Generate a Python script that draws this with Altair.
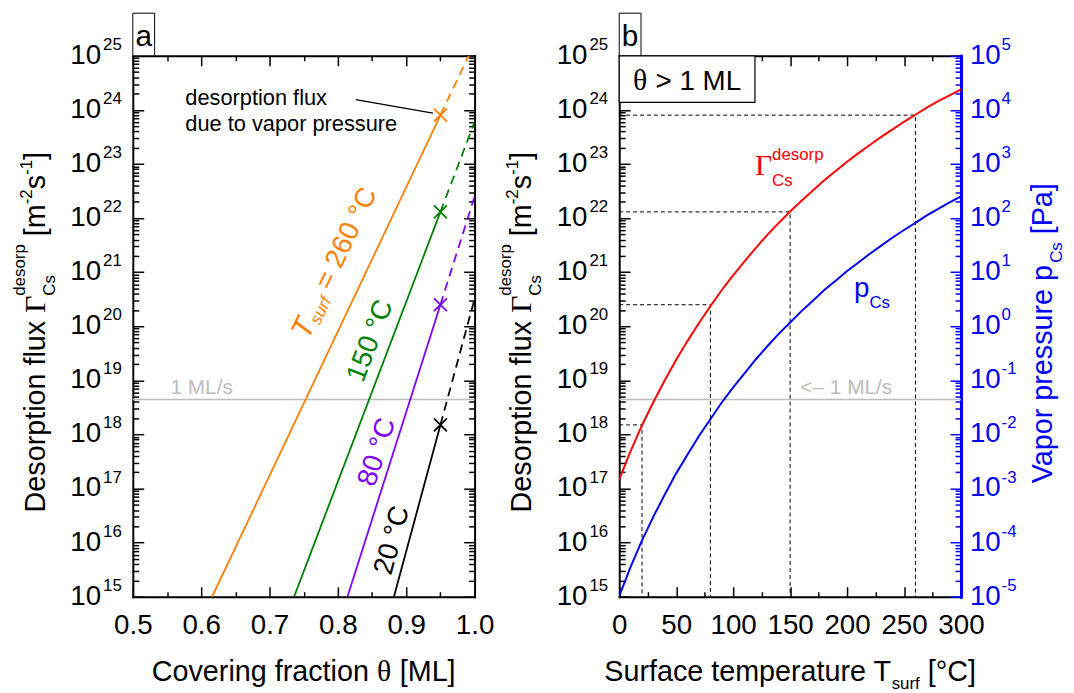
import math
import altair as alt
import pandas as pd

FONT = "Liberation Sans"
SERIF = "Liberation Serif"
W, H = 345, 546

# ---------------- data: panel a ----------------
series_names = ["260", "150", "80", "20"]
series_colors = ["#ff7f00", "#008000", "#7f00ff", "#000000"]
theta_start = [0.616, 0.736, 0.814, 0.882]
flux_start = [1e15, 1e15, 1e15, 1e15]
theta_cross = [0.95, 0.95, 0.95, 0.95]
flux_cross = [8.0e23, 1.3e22, 2.5e20, 1.5e18]
theta_end = [1.0, 1.0, 1.0, 1.0]
flux_end = [1.7e25, 6.0e23, 2.5e22, 3.2e20]
one_ml_flux = 4.4e18

# ---------------- data: panel b ----------------
temps_c = list(range(0, 301, 10))
flux_log10 = [17.17, 17.69, 18.17, 18.60, 19.00, 19.38, 19.73, 20.06, 20.37, 20.67,
              20.94, 21.20, 21.45, 21.69, 21.91, 22.12, 22.32, 22.51, 22.70, 22.87,
              23.04, 23.20, 23.35, 23.50, 23.64, 23.78, 23.91, 24.04, 24.16, 24.27, 24.38]
pressure_log10 = [-4.99, -4.45, -3.96, -3.52, -3.11, -2.72, -2.37, -2.03, -1.72, -1.41,
                  -1.13, -0.87, -0.61, -0.37, -0.14, 0.07, 0.28, 0.47, 0.67, 0.84,
                  1.02, 1.18, 1.34, 1.49, 1.64, 1.78, 1.91, 2.05, 2.17, 2.29, 2.40]
marked_temps = [20, 80, 150, 260]
marked_flux = [1.5e18, 2.5e20, 1.3e22, 8.0e23]

# ---------------- ticks ----------------
flux_exps = list(range(15, 26))
press_exps = list(range(-5, 6))
theta_major = [0.5, 0.6, 0.7, 0.8, 0.9, 1.0]
theta_minor = [0.55, 0.65, 0.75, 0.85, 0.95]
temp_major = [0, 50, 100, 150, 200, 250, 300]
temp_minor = [25, 75, 125, 175, 225, 275]

flux_major = [10.0 ** e for e in flux_exps]
flux_minor = [m * 10.0 ** e for e in flux_exps[:-1] for m in range(2, 10)]
press_major = [10.0 ** e for e in press_exps]
press_minor = [m * 10.0 ** e for e in press_exps[:-1] for m in range(2, 10)]

BLUE = "#0000ff"
RED = "#ff0000"
GRAY = "#bdbdbd"

# ---------------- helpers ----------------
ARIAL = {' ': 278, '-': 333, '.': 278, '/': 278, '<': 584, '=': 584, '>': 584, '[': 278, ']': 278,
         '°': 400, '–': 556,
         'A': 667, 'B': 667, 'C': 722, 'D': 722, 'E': 667, 'F': 611, 'G': 778, 'H': 722, 'I': 278,
         'J': 500, 'K': 667, 'L': 556, 'M': 833, 'N': 722, 'O': 778, 'P': 667, 'Q': 778, 'R': 722,
         'S': 667, 'T': 611, 'U': 722, 'V': 667, 'W': 944, 'X': 667, 'Y': 667, 'Z': 611,
         'a': 556, 'b': 556, 'c': 500, 'd': 556, 'e': 556, 'f': 278, 'g': 556, 'h': 556, 'i': 222,
         'j': 222, 'k': 500, 'l': 222, 'm': 833, 'n': 556, 'o': 556, 'p': 556, 'q': 556, 'r': 333,
         's': 500, 't': 278, 'u': 556, 'v': 500, 'w': 722, 'x': 500, 'y': 500, 'z': 500}
SERIF_W = {'Γ': 578, 'θ': 500, ' ': 250}


def tw(s, size, font=FONT):
    table = SERIF_W if font == SERIF else ARIAL
    return sum(table.get(ch, 556) for ch in s) * size / 1000.0


def rich(pieces, cx, cy, angle=0, anchor="center", color="black"):
    """pieces: (text, size, baseline shift[, advance[, font]])"""
    norm = []
    for p in pieces:
        font = p[4] if len(p) > 4 else FONT
        adv = p[3] if (len(p) > 3 and p[3] is not None) else tw(p[0], p[1], font)
        norm.append((p[0], p[1], p[2], adv, font))
    total = sum(n[3] for n in norm)
    u = -total / 2 if anchor == "center" else 0.0
    a = math.radians(angle)
    rows = []
    for text, size, shift, adv, font in norm:
        lead = len(text) - len(text.lstrip())
        ud = u + tw(text[:lead], size, font)
        x = cx + ud * math.cos(a) - shift * math.sin(a)
        y = cy + ud * math.sin(a) + shift * math.cos(a)
        rows.append(dict(t=text.strip(), x=x, y=y, s=size, c=color, f=font))
        u += adv
    return rows


def text_layers(rows, angle=0):
    df = pd.DataFrame(rows)
    out = []
    for font in [FONT, SERIF]:
        sub = df[df["f"] == font]
        if len(sub) == 0:
            continue
        out.append(alt.Chart(sub.drop(columns=["f"])).mark_text(
            align="left", baseline="alphabetic", font=font, angle=angle).encode(
            x=alt.X("x:Q", scale=None, axis=None),
            y=alt.Y("y:Q", scale=None, axis=None),
            text="t:N",
            size=alt.Size("s:Q", scale=None, legend=None),
            color=alt.Color("c:N", scale=None, legend=None)))
    return out


def tick_axis(orient, offset, values, size, color="black", domain=False, dcolor="black", dwidth=2):
    kw = dict(orient=orient, offset=offset, values=values, tickSize=size, tickColor=color,
              tickWidth=1.5, labels=False, grid=False, ticks=True, title=None, domain=domain)
    if domain:
        kw.update(domainColor=dcolor, domainWidth=dwidth, domainCap="square")
    return alt.Axis(**kw)


def label_axis(values, fmt):
    return alt.Axis(orient="bottom", values=values, format=fmt, ticks=False, tickSize=0, domain=False,
                    grid=False, labels=True, labelFont=FONT, labelFontSize=28, labelColor="black",
                    labelPadding=15, labelFlush=False, labelOverlap=False, labelBound=False, title=None)


def tick_labels(values, exps, x_base, x_exp, align_base, scale, color="black"):
    df = pd.DataFrame({"v": values, "b": ["10"] * len(values), "e": [str(e) for e in exps]})
    base = alt.Chart(df).mark_text(align=align_base, baseline="middle", font=FONT, fontSize=28,
                                   color=color).encode(
        x=alt.value(x_base), y=alt.Y("v:Q", scale=scale, axis=None), text="b:N")
    ex = alt.Chart(df).mark_text(align="left", baseline="middle", font=FONT, fontSize=17, dy=-11,
                                 color=color).encode(
        x=alt.value(x_exp), y=alt.Y("v:Q", scale=scale, axis=None), text="e:N")
    return base, ex


ysc = alt.Scale(type="log", domain=[1e15, 1e25], nice=False)
psc = alt.Scale(type="log", domain=[1e-5, 1e5], nice=False)
xsa = alt.Scale(domain=[0.5, 1.0], nice=False, zero=False)
xsb = alt.Scale(domain=[0, 300], nice=False, zero=False)

# ================= panel a =================
df_solid = pd.DataFrame({"series": series_names * 2, "theta": theta_start + theta_cross,
                         "flux": flux_start + flux_cross})
df_dash = pd.DataFrame({"series": series_names * 2, "theta": theta_cross + theta_end,
                        "flux": flux_cross + flux_end})
df_cross = pd.DataFrame({"series": series_names, "theta": theta_cross, "flux": flux_cross})
color_enc = alt.Color("series:N", scale=alt.Scale(domain=series_names, range=series_colors), legend=None)

a_solid = alt.Chart(df_solid).mark_line(strokeWidth=1.8, clip=True).encode(
    x=alt.X("theta:Q", scale=xsa, axis=label_axis(theta_major, ".1f")),
    y=alt.Y("flux:Q", scale=ysc, axis=tick_axis("right", -W, flux_major, 11, domain=True)),
    color=color_enc)
a_dash = alt.Chart(df_dash).mark_line(strokeWidth=1.8, strokeDash=[9, 6], clip=True).encode(
    x=alt.X("theta:Q", scale=xsa, axis=tick_axis("bottom", -H, theta_major, 10, domain=True)),
    y=alt.Y("flux:Q", scale=ysc, axis=tick_axis("left", -W, flux_major, 11, domain=True)),
    color=color_enc)
a_cross = alt.Chart(df_cross).mark_point(shape="M-1,-1L1,1M-1,1L1,-1", size=170, filled=False,
                                         strokeWidth=1.8, opacity=1).encode(
    x=alt.X("theta:Q", scale=xsa, axis=tick_axis("top", -H, theta_major, 10, domain=True)),
    y=alt.Y("flux:Q", scale=ysc, axis=tick_axis("right", -W, flux_minor, 6)),
    color=color_enc)
a_rule = alt.Chart(pd.DataFrame({"t0": [0.5], "t1": [1.0], "flux": [one_ml_flux]})).mark_rule(
    color=GRAY, strokeWidth=1.5).encode(
    x=alt.X("t0:Q", scale=xsa, axis=tick_axis("bottom", -H, theta_minor, 5)),
    x2="t1:Q",
    y=alt.Y("flux:Q", scale=ysc, axis=tick_axis("left", -W, flux_minor, 6)))
a_mltext = alt.Chart(pd.DataFrame({"theta": [0.555], "flux": [one_ml_flux], "t": ["1 ML/s"]})).mark_text(
    align="left", baseline="alphabetic", dy=-6, font=FONT, fontSize=21, color=GRAY).encode(
    x=alt.X("theta:Q", scale=xsa, axis=tick_axis("top", -H, theta_minor, 5)),
    y=alt.Y("flux:Q", scale=ysc, axis=None), text="t:N")
a_leader = alt.Chart(pd.DataFrame({"theta": [0.826, 0.939], "flux": [10 ** 24.19, 10 ** 23.94]})).mark_line(
    color="black", strokeWidth=1.2).encode(
    x=alt.X("theta:Q", scale=xsa, axis=None), y=alt.Y("flux:Q", scale=ysc, axis=None))


def rot_label(theta, flux, text, color, angle, dx=0, dy=0, italic=False, size=28, align="left"):
    kw = dict(align=align, baseline="middle", font=FONT, fontSize=size, color=color, angle=angle,
              dx=dx, dy=dy)
    if italic:
        kw["fontStyle"] = "italic"
    return alt.Chart(pd.DataFrame({"theta": [theta], "flux": [flux], "t": [text]})).mark_text(**kw).encode(
        x=alt.X("theta:Q", scale=xsa, axis=None), y=alt.Y("flux:Q", scale=ysc, axis=None), text="t:N")


# orange composite label "T_surf = 260 °C"
o_ang = 295.4
w_T, w_surf, w_sp = tw("T", 30), tw("surf", 17), tw(" ", 28)
o_total = w_T + w_surf + tw(" = 260 °C", 28)
o_start = -o_total / 2
o_th, o_fl = 0.796, 10 ** 21.17
lab_o1 = rot_label(o_th, o_fl, "T", series_colors[0], o_ang, dx=o_start, italic=True, size=30)
lab_o2 = rot_label(o_th, o_fl, "surf", series_colors[0], o_ang, dx=o_start + w_T, dy=8, italic=True, size=17)
lab_o3 = rot_label(o_th, o_fl, "= 260 °C", series_colors[0], o_ang, dx=o_start + w_T + w_surf + w_sp)
lab_g = rot_label(0.848, 10 ** 19.73, "150 °C", series_colors[1], 290.8, align="center")
lab_p = rot_label(0.858, 10 ** 17.67, "80 °C", series_colors[2], 287.7, align="center")
lab_k = rot_label(0.880, 10 ** 16.04, "20 °C", series_colors[3], 285.2, align="center")

a_ylab_base, a_ylab_exp = tick_labels(flux_major, flux_exps, -32, -30, "right", ysc)

ytitle_pieces = [("Desorption flux ", 29, 0), ("Γ", 30, 0, None, SERIF), ("Cs", 17, 10, 0),
                 ("desorp", 17, -20), (" [m", 29, 0), ("-2", 17, -13), ("s", 29, 0),
                 ("-1", 17, -13), ("]", 29, 0)]

a_text0 = text_layers(
    rich([("Covering fraction ", 29, 0), ("θ", 30, 0, None, SERIF), (" [ML]", 29, 0)], W / 2, 631)
    + rich([("desorption flux", 22, 0)], 53, 50, anchor="left")
    + rich([("due to vapor pressure", 22, 0)], 53, 76, anchor="left")
    + rich([("a", 30, 0)], 11, -10))
a_text90 = text_layers(rich(ytitle_pieces, -89, 279, angle=270), angle=270)

a_box = alt.Chart(pd.DataFrame({"k": [0]})).mark_rect(fill="white", stroke="black", strokeWidth=1).encode(
    x=alt.value(0), x2=alt.value(22), y=alt.value(-43), y2=alt.value(0))

panel_a = alt.layer(
    a_rule, a_mltext, a_leader, a_solid, a_dash, a_cross,
    lab_o1, lab_o2, lab_o3, lab_g, lab_p, lab_k,
    a_ylab_base, a_ylab_exp, a_box, *a_text0, *a_text90,
).resolve_axis(x="independent", y="independent").properties(width=W, height=H)

# ================= panel b =================
df_curve = pd.DataFrame({"T": temps_c, "flux": [10 ** v for v in flux_log10],
                         "p": [10 ** v for v in pressure_log10]})
guide_rows = []
for i, (t, f) in enumerate(zip(marked_temps, marked_flux)):
    guide_rows += [dict(id=i, o=0, T=0, flux=f), dict(id=i, o=1, T=t, flux=f), dict(id=i, o=2, T=t, flux=1e15)]
df_guides = pd.DataFrame(guide_rows)

b_red = alt.Chart(df_curve).mark_line(color=RED, strokeWidth=2, clip=True).encode(
    x=alt.X("T:Q", scale=xsb, axis=label_axis(temp_major, "d")),
    y=alt.Y("flux:Q", scale=ysc, axis=tick_axis("right", -W, flux_major, 11, domain=True)))
b_blue = alt.Chart(df_curve).mark_line(color=BLUE, strokeWidth=2, clip=True).encode(
    x=alt.X("T:Q", scale=xsb, axis=tick_axis("top", -H, temp_major, 10, domain=True)),
    y=alt.Y("p:Q", scale=psc, axis=tick_axis("left", -W, press_major, 11, color=BLUE, domain=True,
                                              dcolor=BLUE, dwidth=3)))
b_guides = alt.Chart(df_guides).mark_line(color="black", strokeWidth=1, strokeDash=[4, 3]).encode(
    x=alt.X("T:Q", scale=xsb, axis=tick_axis("bottom", -H, temp_major, 10, domain=True)),
    y=alt.Y("flux:Q", scale=ysc, axis=tick_axis("right", -W, flux_minor, 6)),
    detail="id:N", order="o:Q")
b_rule = alt.Chart(pd.DataFrame({"t0": [0], "t1": [300], "flux": [one_ml_flux]})).mark_rule(
    color=GRAY, strokeWidth=1.5).encode(
    x=alt.X("t0:Q", scale=xsb, axis=tick_axis("bottom", -H, temp_minor, 5)),
    x2="t1:Q",
    y=alt.Y("flux:Q", scale=ysc, axis=None))
b_mltext = alt.Chart(pd.DataFrame({"T": [159], "flux": [one_ml_flux], "t": ["<– 1 ML/s"]})).mark_text(
    align="left", baseline="alphabetic", dy=-6, font=FONT, fontSize=21, color=GRAY).encode(
    x=alt.X("T:Q", scale=xsb, axis=tick_axis("top", -H, temp_minor, 5)),
    y=alt.Y("flux:Q", scale=ysc, axis=None), text="t:N")

b_ylab_base, b_ylab_exp = tick_labels(flux_major, flux_exps, -32, -30, "right", ysc)
b_plab_base, b_plab_exp = tick_labels(press_major, press_exps, W + 9, W + 41, "left", psc, color=BLUE)
b_plab_base = b_plab_base.encode(
    y=alt.Y("v:Q", scale=psc, axis=tick_axis("left", -W, press_minor, 6, color=BLUE)))

b_box = alt.Chart(pd.DataFrame({"k": [0]})).mark_rect(fill="white", stroke="black", strokeWidth=1).encode(
    x=alt.value(0), x2=alt.value(22), y=alt.value(-43), y2=alt.value(0))
b_theta_box = alt.Chart(pd.DataFrame({"k": [0]})).mark_rect(fill="white", stroke="black",
                                                            strokeWidth=1.2).encode(
    x=alt.value(0), x2=alt.value(137), y=alt.value(0), y2=alt.value(47))

b_text0 = text_layers(
    rich([("Surface temperature T", 29, 0), ("surf", 17, 8), (" [°C]", 29, 0)], W / 2, 631)
    + rich([("b", 30, 0)], 11, -10)
    + rich([("θ", 30, 0, None, SERIF), (" > 1 ML", 28, 0)], 68.5, 35)
    + rich([("Γ", 30, 0, None, SERIF), ("Cs", 17, 11, 0), ("desorp", 17, -15)], 137, 120,
           anchor="left", color=RED)
    + rich([("p", 28, 0), ("Cs", 17, 12)], 237, 243, anchor="left", color=BLUE))
b_text90 = text_layers(
    rich(ytitle_pieces, -89, 279, angle=270)
    + rich([("Vapor pressure p", 29, 0), ("Cs", 17, 10), (" [Pa]", 29, 0)], 437, 280, angle=270, color=BLUE),
    angle=270)

panel_b = alt.layer(
    b_rule, b_mltext, b_guides, b_red, b_blue,
    b_ylab_base, b_ylab_exp, b_plab_base, b_plab_exp,
    b_box, b_theta_box, *b_text0, *b_text90,
).resolve_scale(y="independent").resolve_axis(x="independent", y="independent").properties(
    width=W, height=H)

chart = alt.hconcat(panel_a, panel_b, spacing=146, bounds="flush").properties(
    padding={"left": 2, "top": 1, "right": 0, "bottom": 0}
).configure_view(stroke="transparent").configure(font=FONT)

chart.save("out.html", embed_options={"renderer": "svg", "actions": False})
